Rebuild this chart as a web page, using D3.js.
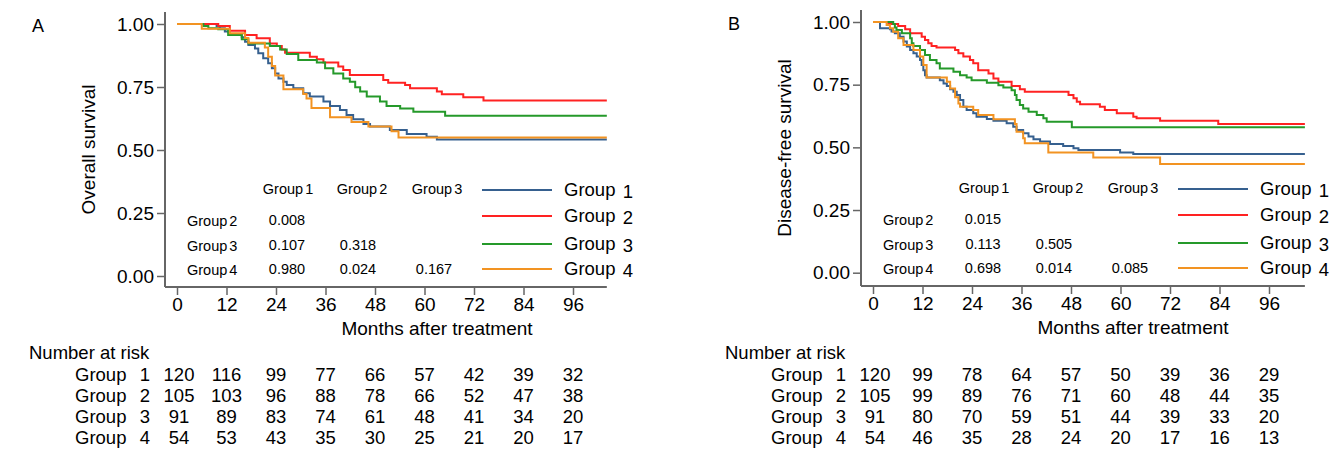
<!DOCTYPE html>
<html>
<head>
<meta charset="utf-8">
<script src="https://cdn.jsdelivr.net/npm/d3@7"></script>
<style>
  html, body { margin: 0; padding: 0; background: #fff; }
  svg { display: block; font-family: "Liberation Sans", Arial, Helvetica, sans-serif; }
</style>
</head>
<body>
<svg id="chart" width="1341" height="449"></svg>
<script>
// ---------------- DATA ----------------
const groupNames = ["Group 1", "Group 2", "Group 3", "Group 4"];
const xTickValues = [0, 12, 24, 36, 48, 60, 72, 84, 96];
const yTickValues = [0, 0.25, 0.5, 0.75, 1];

// Panel A: Overall survival, [month, survival] step points
const osGroup1 = [[0,1],[9.6,0.992],[10.4,0.983],[11.6,0.970],[12.8,0.956],[15.7,0.947],[16.5,0.930],[17.3,0.917],[18.9,0.903],[19.7,0.884],[20.9,0.864],[22.1,0.844],[23.0,0.824],[23.8,0.804],[24.6,0.784],[25.8,0.771],[26.6,0.758],[28.2,0.745],[30.6,0.725],[32.2,0.712],[35.5,0.692],[37.1,0.675],[39.5,0.659],[41.1,0.639],[42.7,0.622],[45.2,0.603],[46.8,0.593],[51.6,0.579],[55.7,0.563],[60.5,0.553],[63.0,0.542]];
const osGroup2 = [[0,1],[10.0,0.992],[12.8,0.973],[16.5,0.956],[19.3,0.943],[22.5,0.923],[24.2,0.913],[25.4,0.899],[26.2,0.886],[32.2,0.870],[33.9,0.860],[35.5,0.847],[39.1,0.831],[40.3,0.817],[41.9,0.798],[50.0,0.778],[51.2,0.767],[55.3,0.758],[56.5,0.745],[63.0,0.732],[64.2,0.721],[69.4,0.709],[74.3,0.696]];
const osGroup3 = [[0,1],[6.4,0.992],[7.6,0.983],[10.0,0.979],[12.4,0.956],[15.7,0.939],[17.3,0.923],[22.5,0.913],[25.0,0.899],[26.6,0.881],[29.4,0.857],[33.9,0.847],[35.9,0.824],[37.9,0.804],[40.3,0.784],[41.9,0.771],[43.2,0.749],[44.4,0.732],[46.0,0.712],[49.2,0.692],[50.8,0.675],[54.1,0.665],[57.3,0.652],[65.0,0.636]];
const osGroup4 = [[0,1],[6.0,0.981],[12.8,0.963],[16.5,0.944],[17.3,0.926],[21.3,0.907],[22.1,0.870],[23.0,0.833],[23.8,0.796],[25.8,0.741],[30.6,0.722],[31.4,0.704],[32.6,0.667],[37.1,0.630],[42.3,0.611],[46.4,0.593],[52.0,0.574],[53.7,0.550]];
const osEndMonth = 104.2;

// Panel B: Disease-free survival
const dfsGroup1 = [[0,1],[1.7,0.975],[4.1,0.971],[4.5,0.962],[5.3,0.955],[6.5,0.941],[7.4,0.922],[8.2,0.902],[9.0,0.888],[9.8,0.875],[10.6,0.862],[11.4,0.848],[11.8,0.828],[12.2,0.808],[12.6,0.788],[13.0,0.779],[16.2,0.768],[17.1,0.755],[17.9,0.745],[18.7,0.732],[19.5,0.722],[20.3,0.709],[21.1,0.689],[21.9,0.662],[22.7,0.649],[24.3,0.636],[25.1,0.622],[27.6,0.613],[29.2,0.606],[32.4,0.596],[34.0,0.582],[34.8,0.569],[36.4,0.556],[37.7,0.543],[38.9,0.532],[40.5,0.523],[42.9,0.513],[46.1,0.505],[48.6,0.496],[49.8,0.489],[59.9,0.479],[63.1,0.473]];
const dfsGroup2 = [[0,1],[3.7,0.992],[6.1,0.984],[7.8,0.971],[9.0,0.955],[11.8,0.941],[12.6,0.928],[13.4,0.915],[14.2,0.904],[15.4,0.898],[19.9,0.888],[20.7,0.875],[21.9,0.862],[23.5,0.848],[24.3,0.835],[25.5,0.808],[28.0,0.795],[29.2,0.775],[30.4,0.762],[33.6,0.745],[35.6,0.732],[36.8,0.722],[47.4,0.709],[48.6,0.696],[49.4,0.682],[50.2,0.672],[55.0,0.662],[56.2,0.649],[59.1,0.636],[63.1,0.622],[63.9,0.616],[69.6,0.606],[83.7,0.593]];
const dfsGroup3 = [[0,1],[4.9,0.992],[5.3,0.978],[5.7,0.968],[7.0,0.955],[9.0,0.935],[9.4,0.915],[9.8,0.904],[11.4,0.888],[12.6,0.868],[13.8,0.848],[15.4,0.835],[16.2,0.815],[19.5,0.802],[21.1,0.788],[22.7,0.779],[23.9,0.768],[27.6,0.758],[30.4,0.748],[31.6,0.739],[33.6,0.728],[34.4,0.709],[34.8,0.689],[35.6,0.669],[36.4,0.655],[37.7,0.642],[39.7,0.629],[41.3,0.616],[42.1,0.602],[48.2,0.580]];
const dfsGroup4 = [[0,1],[3.3,0.988],[4.1,0.975],[4.9,0.961],[6.1,0.935],[7.4,0.908],[9.8,0.888],[11.4,0.862],[12.2,0.828],[13.0,0.779],[17.9,0.762],[18.7,0.735],[19.9,0.700],[20.7,0.675],[21.1,0.662],[24.3,0.649],[25.5,0.629],[29.2,0.612],[34.4,0.593],[34.8,0.562],[36.4,0.536],[36.8,0.516],[42.5,0.479],[53.4,0.460],[69.6,0.434]];
const dfsEndMonth = 104.7;

// Pairwise p-value tables
const pColLabels = ["Group 1", "Group 2", "Group 3"];
const pRowLabels = ["Group 2", "Group 3", "Group 4"];
const pValuesA = [["0.008", "", ""], ["0.107", "0.318", ""], ["0.980", "0.024", "0.167"]];
const pValuesB = [["0.015", "", ""], ["0.113", "0.505", ""], ["0.698", "0.014", "0.085"]];

// Number at risk (at xTickValues)
const riskA_G1 = [120, 116, 99, 77, 66, 57, 42, 39, 32];
const riskA_G2 = [105, 103, 96, 88, 78, 66, 52, 47, 38];
const riskA_G3 = [91, 89, 83, 74, 61, 48, 41, 34, 20];
const riskA_G4 = [54, 53, 43, 35, 30, 25, 21, 20, 17];
const riskB_G1 = [120, 99, 78, 64, 57, 50, 39, 36, 29];
const riskB_G2 = [105, 99, 89, 76, 71, 60, 48, 44, 35];
const riskB_G3 = [91, 80, 70, 59, 51, 44, 39, 33, 20];
const riskB_G4 = [54, 46, 35, 28, 24, 20, 17, 16, 13];

// ---------------- STYLE ----------------
const groupColors = ["#36608f", "#ff2222", "#25992a", "#f29322"];
const axisColor = "#666";

// ---------------- DRAW ----------------
const svg = d3.select("#chart");

function drawPanel(cfg) {
  const g = svg.append("g");
  const x = d3.scaleLinear().domain([0, 96]).range([cfg.x0, cfg.x0 + 396]);
  const y = d3.scaleLinear().domain([0, 1]).range([cfg.y0, cfg.y1]);
  const yAxisX = cfg.x0 - 12;
  const xAxisY = cfg.xAxisY;

  // panel letter
  g.append("text").attr("x", cfg.x0 - 139).attr("y", y(1) + 8)
    .attr("font-size", 18).attr("text-anchor", "middle").text(cfg.letter);

  // Y axis
  const yAxis = d3.axisLeft(y).tickValues(yTickValues).tickFormat(d3.format(".2f"))
    .tickSize(8).tickPadding(3);
  const gy = g.append("g").attr("transform", `translate(${yAxisX},0)`).call(yAxis);
  gy.select(".domain").remove();
  gy.selectAll(".tick line").attr("stroke", axisColor).attr("stroke-width", 1.5);
  gy.selectAll(".tick text").attr("font-size", 19).attr("fill", "#000")
    .attr("font-family", "'Liberation Sans', Arial, sans-serif");
  g.append("line").attr("x1", yAxisX).attr("x2", yAxisX)
    .attr("y1", cfg.yTop).attr("y2", xAxisY)
    .attr("stroke", axisColor).attr("stroke-width", 2);

  // X axis
  const xAxis = d3.axisBottom(x).tickValues(xTickValues).tickFormat(d3.format("d"))
    .tickSize(8).tickPadding(3);
  const gx = g.append("g").attr("transform", `translate(0,${xAxisY})`).call(xAxis);
  gx.select(".domain").remove();
  gx.selectAll(".tick line").attr("stroke", axisColor).attr("stroke-width", 1.5);
  gx.selectAll(".tick text").attr("font-size", 19).attr("fill", "#000")
    .attr("font-family", "'Liberation Sans', Arial, sans-serif");
  g.append("line").attr("x1", yAxisX).attr("x2", x(cfg.endMonth))
    .attr("y1", xAxisY).attr("y2", xAxisY)
    .attr("stroke", axisColor).attr("stroke-width", 2);

  // axis titles
  g.append("text").attr("x", (x(0) + x(96)) / 2 + 62).attr("y", xAxisY + 48)
    .attr("font-size", 19).attr("text-anchor", "middle").text("Months after treatment");
  g.append("text")
    .attr("transform", `translate(${cfg.x0 - 82},${(cfg.yTop + xAxisY) / 2}) rotate(-90)`)
    .attr("font-size", 19).attr("text-anchor", "middle").text(cfg.yTitle);

  // curves
  const line = d3.line().x(d => x(d[0])).y(d => y(d[1])).curve(d3.curveStepAfter);
  cfg.series.forEach((s, i) => {
    const pts = s.concat([[cfg.endMonth, s[s.length - 1][1]]]);
    g.append("path").attr("d", line(pts)).attr("fill", "none")
      .attr("stroke", groupColors[i]).attr("stroke-width", 2);
  });

  // p-value table
  const dx = cfg.x0 - 177;
  const colCx = [288, 362, 437].map(v => v + dx);
  const valCx = [287, 358, 434].map(v => v + dx);
  const rowY = [221, 246, 270].map(v => v + cfg.dy);
  const headY = 189 + cfg.dy;
  pColLabels.forEach((c, j) => {
    g.append("text").attr("x", colCx[j]).attr("y", headY).attr("dy", "0.35em")
      .attr("font-size", 14.5).attr("text-anchor", "middle").attr("word-spacing", -2).text(c);
  });
  pRowLabels.forEach((r, i) => {
    g.append("text").attr("x", 187 + dx).attr("y", rowY[i]).attr("dy", "0.35em")
      .attr("font-size", 14.5).attr("word-spacing", -2).text(r);
    cfg.pValues[i].forEach((v, j) => {
      if (!v) return;
      g.append("text").attr("x", valCx[j]).attr("y", rowY[i] - 1).attr("dy", "0.35em")
        .attr("font-size", 14.5).attr("text-anchor", "middle").text(v);
    });
  });

  // legend
  const legY = [190, 216, 244, 269].map(v => v + cfg.dy);
  groupNames.forEach((name, i) => {
    g.append("line").attr("x1", 482 + dx).attr("x2", 552 + dx)
      .attr("y1", legY[i]).attr("y2", legY[i])
      .attr("stroke", groupColors[i]).attr("stroke-width", 2);
    const parts = name.split(" ");
    g.append("text").attr("x", 564 + dx).attr("y", legY[i]).attr("dy", "0.35em")
      .attr("font-size", 18.5).text(parts[0]);
    g.append("text").attr("x", 633 + dx).attr("y", legY[i] + 2).attr("dy", "0.35em")
      .attr("font-size", 18.5).attr("text-anchor", "end").text(parts[1]);
  });

  // number at risk
  const rdx = cfg.x0 - 177;
  g.append("text").attr("x", 29 + rdx).attr("y", 353).attr("dy", "0.35em")
    .attr("font-size", 18.5).text("Number at risk");
  const rY = [375, 396, 417, 438];
  cfg.risk.forEach((row, i) => {
    const parts = groupNames[i].split(" ");
    g.append("text").attr("x", 75 + rdx).attr("y", rY[i]).attr("dy", "0.35em")
      .attr("font-size", 18.5).text(parts[0]);
    g.append("text").attr("x", 145 + rdx).attr("y", rY[i]).attr("dy", "0.35em")
      .attr("font-size", 18.5).attr("text-anchor", "middle").text(parts[1]);
    row.forEach((v, k) => {
      g.append("text").attr("x", x(xTickValues[k]) + (k === 0 ? 2 : 0)).attr("y", rY[i]).attr("dy", "0.35em")
        .attr("font-size", 18.5).attr("text-anchor", "middle").text(v);
    });
  });
}

drawPanel({
  letter: "A", yTitle: "Overall survival",
  x0: 177, y0: 276, y1: 24, yTop: 12, xAxisY: 287, dy: 0,
  endMonth: osEndMonth,
  series: [osGroup1, osGroup2, osGroup3, osGroup4],
  pValues: pValuesA,
  risk: [riskA_G1, riskA_G2, riskA_G3, riskA_G4]
});
drawPanel({
  letter: "B", yTitle: "Disease-free survival",
  x0: 873, y0: 272.7, y1: 22, yTop: 10, xAxisY: 286, dy: -1,
  endMonth: dfsEndMonth,
  series: [dfsGroup1, dfsGroup2, dfsGroup3, dfsGroup4],
  pValues: pValuesB,
  risk: [riskB_G1, riskB_G2, riskB_G3, riskB_G4]
});
</script>
</body>
</html>
